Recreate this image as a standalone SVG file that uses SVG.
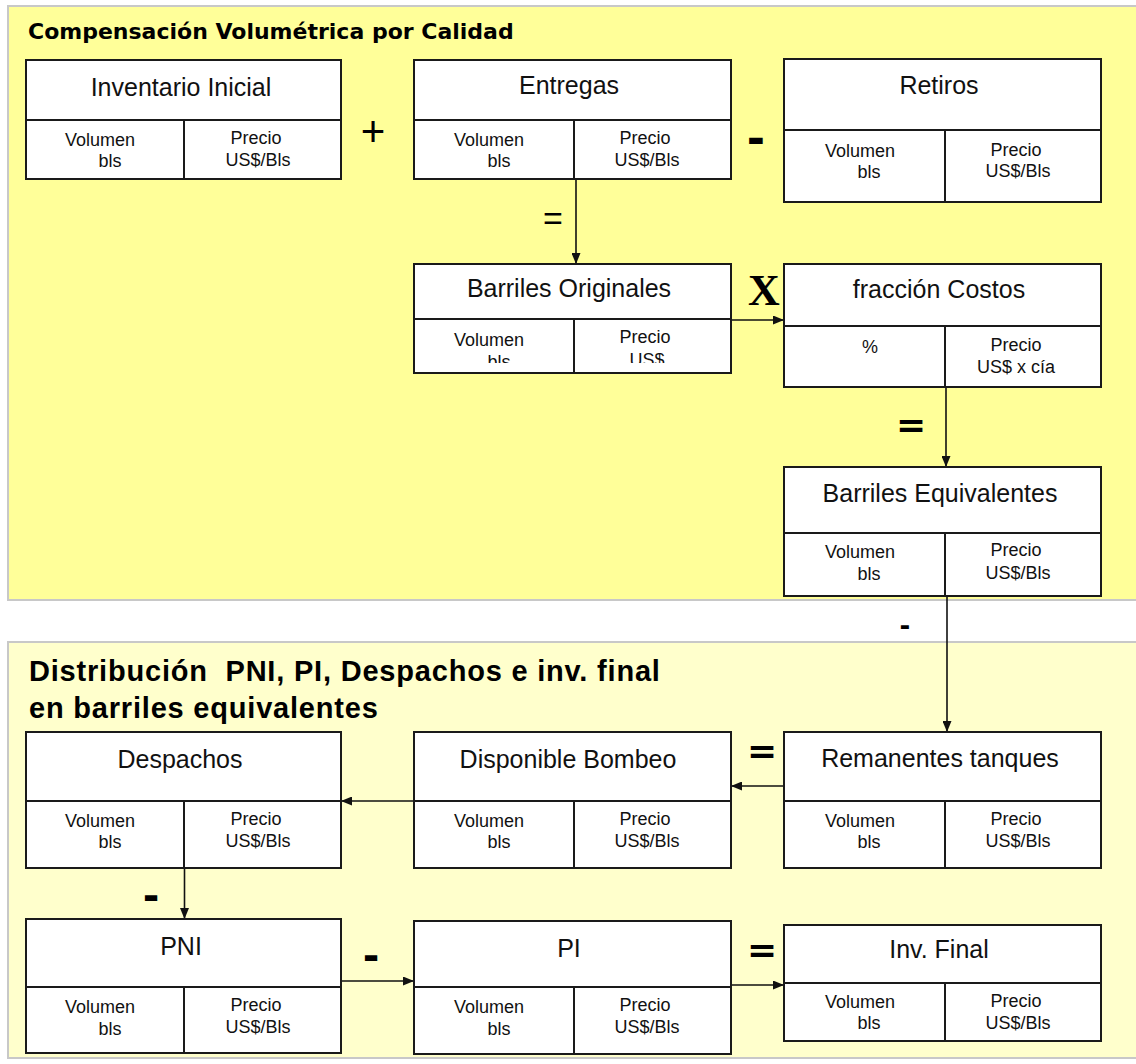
<svg xmlns="http://www.w3.org/2000/svg" width="1136" height="1064" viewBox="0 0 1136 1064">
<defs>
<marker id="ah" markerUnits="userSpaceOnUse" markerWidth="11" markerHeight="9" refX="11" refY="4.5" orient="auto">
<path d="M0,0 L11,4.5 L0,9 z" fill="#111"/>
</marker>
<clipPath id="clipBO"><rect x="414" y="319" width="317" height="44"/></clipPath>
</defs>
<style>
.box{fill:#fff;stroke:#1a1a1a;stroke-width:2}
.div{stroke:#1a1a1a;stroke-width:2;fill:none}
.t{font-family:"Liberation Sans",Arial,sans-serif;font-size:25px;fill:#111;text-anchor:middle}
.s{font-family:"Liberation Sans",Arial,sans-serif;font-size:18px;fill:#111;text-anchor:middle}
.c{stroke:#111;stroke-width:1.6;fill:none;marker-end:url(#ah)}
.op{font-family:"DejaVu Sans",sans-serif;font-weight:bold;fill:#000;text-anchor:middle}
.opt{font-family:"Liberation Sans",Arial,sans-serif;fill:#000;text-anchor:middle}
.h2{font-family:"Liberation Sans",Arial,sans-serif;font-weight:bold;font-size:29px;letter-spacing:0.8px;fill:#000}
</style>
<rect width="1136" height="1064" fill="#fff"/>
<g id="panel-top">
<rect x="8" y="6" width="1140" height="594" fill="#FFFF99" stroke="#c8c8c8" stroke-width="2"/>
<text x="28" y="39" font-family="DejaVu Sans, sans-serif" font-weight="bold" font-size="22" fill="#000">Compensación Volumétrica por Calidad</text>
</g>
<g id="panel-bottom">
<rect x="8" y="642" width="1140" height="416" fill="#FFFFCC" stroke="#c8c8c8" stroke-width="2"/>
<text class="h2" x="29" y="681" xml:space="preserve">Distribución  PNI, PI, Despachos e inv. final</text>
<text class="h2" x="29" y="718">en barriles equivalentes</text>
</g>

<g id="connectors">
<line class="c" x1="576" y1="172" x2="576" y2="264"/>
<line class="c" x1="731" y1="320" x2="784" y2="320"/>
<line class="c" x1="946" y1="387" x2="946" y2="467"/>
<line class="c" x1="947" y1="596" x2="947" y2="732"/>
<line class="c" x1="784" y1="786" x2="731" y2="786"/>
<line class="c" x1="414" y1="801" x2="341" y2="801"/>
<line class="c" x1="184.5" y1="868" x2="184.5" y2="919"/>
<line class="c" x1="341" y1="981" x2="414" y2="981"/>
<line class="c" x1="731" y1="985" x2="784" y2="985"/>
</g>

<g id="operators">
<text class="opt" x="373" y="146" font-size="42" font-family="DejaVu Sans, sans-serif">+</text>
<text class="op" x="756" y="154" font-size="44">-</text>
<text class="opt" x="553" y="230" font-size="34">=</text>
<text x="764" y="305" font-family="Liberation Serif, Times New Roman, serif" font-weight="bold" font-size="44" fill="#000" text-anchor="middle">X</text>
<text class="op" x="911" y="437" font-size="36">=</text>
<text class="op" x="905" y="635" font-size="26">-</text>
<text class="op" x="762" y="763" font-size="36">=</text>
<text class="op" x="151" y="910" font-size="40">-</text>
<text class="op" x="371" y="970" font-size="40">-</text>
<text class="op" x="762" y="962" font-size="36">=</text>
</g>

<g id="inventario-inicial">
<rect class="box" x="26" y="60" width="315" height="119"/>
<path class="div" d="M26,120 H341 M184,120 V179"/>
<text class="t" x="181" y="96">Inventario Inicial</text>
<text class="s" x="100" y="146">Volumen</text><text class="s" x="110" y="167">bls</text>
<text class="s" x="256" y="144">Precio</text><text class="s" x="258" y="166">US$/Bls</text>
</g>

<g id="entregas">
<rect class="box" x="414" y="60" width="317" height="119"/>
<path class="div" d="M414,120 H731 M574,120 V179"/>
<text class="t" x="569" y="94">Entregas</text>
<text class="s" x="489" y="146">Volumen</text><text class="s" x="499" y="167">bls</text>
<text class="s" x="645" y="144">Precio</text><text class="s" x="647" y="166">US$/Bls</text>
</g>

<g id="retiros">
<rect class="box" x="784" y="59" width="317" height="143"/>
<path class="div" d="M784,130 H1101 M945,130 V202"/>
<text class="t" x="939" y="94">Retiros</text>
<text class="s" x="860" y="157">Volumen</text><text class="s" x="869" y="178">bls</text>
<text class="s" x="1016" y="156">Precio</text><text class="s" x="1018" y="177">US$/Bls</text>
</g>

<g id="barriles-originales">
<rect class="box" x="414" y="264" width="317" height="109"/>
<path class="div" d="M414,319 H731 M574,319 V373"/>
<text class="t" x="569" y="297">Barriles Originales</text>
<g clip-path="url(#clipBO)">
<text class="s" x="489" y="346">Volumen</text><text class="s" x="499" y="368">bls</text>
<text class="s" x="645" y="343">Precio</text><text class="s" x="647" y="366">US$</text>
</g>
</g>

<g id="fraccion-costos">
<rect class="box" x="784" y="264" width="317" height="123"/>
<path class="div" d="M784,326 H1101 M945,326 V387"/>
<text class="t" x="939" y="298">fracción Costos</text>
<text class="s" x="870" y="353">%</text>
<text class="s" x="1016" y="351">Precio</text><text class="s" x="1016" y="373">US$ x cía</text>
</g>

<g id="barriles-equivalentes">
<rect class="box" x="784" y="467" width="317" height="129"/>
<path class="div" d="M784,533 H1101 M945,533 V596"/>
<text class="t" x="940" y="502">Barriles Equivalentes</text>
<text class="s" x="860" y="558">Volumen</text><text class="s" x="869" y="580">bls</text>
<text class="s" x="1016" y="556">Precio</text><text class="s" x="1018" y="579">US$/Bls</text>
</g>

<g id="despachos">
<rect class="box" x="26" y="732" width="315" height="136"/>
<path class="div" d="M26,801 H341 M184,801 V868"/>
<text class="t" x="180" y="768">Despachos</text>
<text class="s" x="100" y="827">Volumen</text><text class="s" x="110" y="848">bls</text>
<text class="s" x="256" y="825">Precio</text><text class="s" x="258" y="847">US$/Bls</text>
</g>

<g id="disponible-bombeo">
<rect class="box" x="414" y="732" width="317" height="136"/>
<path class="div" d="M414,801 H731 M574,801 V868"/>
<text class="t" x="568" y="768">Disponible Bombeo</text>
<text class="s" x="489" y="827">Volumen</text><text class="s" x="499" y="848">bls</text>
<text class="s" x="645" y="825">Precio</text><text class="s" x="647" y="847">US$/Bls</text>
</g>

<g id="remanentes-tanques">
<rect class="box" x="784" y="732" width="317" height="136"/>
<path class="div" d="M784,801 H1101 M945,801 V868"/>
<text class="t" x="940" y="767">Remanentes tanques</text>
<text class="s" x="860" y="827">Volumen</text><text class="s" x="869" y="848">bls</text>
<text class="s" x="1016" y="825">Precio</text><text class="s" x="1018" y="847">US$/Bls</text>
</g>

<g id="pni">
<rect class="box" x="26" y="919" width="315" height="134"/>
<path class="div" d="M26,987 H341 M184,987 V1053"/>
<text class="t" x="181" y="955">PNI</text>
<text class="s" x="100" y="1013">Volumen</text><text class="s" x="110" y="1035">bls</text>
<text class="s" x="256" y="1011">Precio</text><text class="s" x="258" y="1033">US$/Bls</text>
</g>

<g id="pi">
<rect class="box" x="414" y="921" width="317" height="133"/>
<path class="div" d="M414,987 H731 M574,987 V1054"/>
<text class="t" x="569" y="957">PI</text>
<text class="s" x="489" y="1013">Volumen</text><text class="s" x="499" y="1035">bls</text>
<text class="s" x="645" y="1011">Precio</text><text class="s" x="647" y="1033">US$/Bls</text>
</g>

<g id="inv-final">
<rect class="box" x="784" y="925" width="317" height="116"/>
<path class="div" d="M784,983 H1101 M945,983 V1041"/>
<text class="t" x="939" y="958">Inv. Final</text>
<text class="s" x="860" y="1008">Volumen</text><text class="s" x="869" y="1029">bls</text>
<text class="s" x="1016" y="1007">Precio</text><text class="s" x="1018" y="1029">US$/Bls</text>
</g>
</svg>
